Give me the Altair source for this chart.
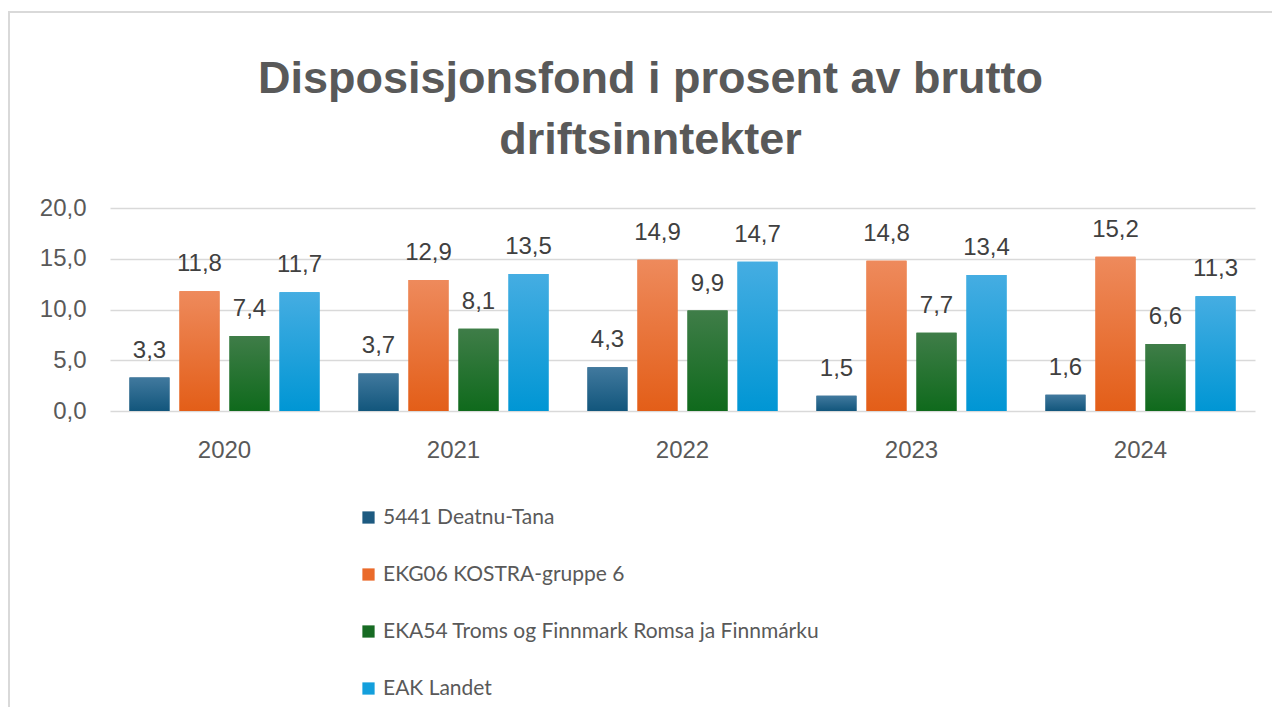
import altair as alt
import pandas as pd

years = ["2020", "2021", "2022", "2023", "2024"]
series = [
    "5441 Deatnu-Tana",
    "EKG06 KOSTRA-gruppe 6",
    "EKA54 Troms og Finnmark Romsa ja Finnmárku",
    "EAK Landet",
]
deatnu = [3.3, 3.7, 4.3, 1.5, 1.6]
kostra = [11.8, 12.9, 14.9, 14.8, 15.2]
troms = [7.4, 8.1, 9.9, 7.7, 6.6]
landet = [11.7, 13.5, 14.7, 13.4, 11.3]
y_ticks = [0, 5, 10, 15, 20]

solid = ["#1d5a80", "#ea6a2a", "#176b23", "#139fdc"]
grad_top = ["#41799e", "#ee8a5c", "#3f7d48", "#45ade2"]
grad_bot = ["#12567c", "#e35e18", "#0f6a1c", "#0096d4"]

rows = []
for s, vals in zip(series, [deatnu, kostra, troms, landet]):
    for yr, v in zip(years, vals):
        rows.append({"year": yr, "series": s, "value": v})
df = pd.DataFrame(rows)
df["label"] = df["value"].map(lambda v: f"{v:.1f}".replace(".", ","))

x_enc = alt.X("year:N", sort=years, title=None,
              scale=alt.Scale(paddingInner=0.17, paddingOuter=0.085),
              axis=alt.Axis(labelFontSize=24, labelColor="#595959", labelFont="Liberation Sans",
                            labelPadding=27, ticks=False, domain=False, labelAngle=0))
xo_enc = alt.XOffset("series:N", sort=series,
                     scale=alt.Scale(domain=series, paddingInner=0.2, paddingOuter=0))
y_enc = alt.Y("value:Q", title=None,
              scale=alt.Scale(domain=[0, 20], nice=False),
              axis=alt.Axis(values=y_ticks, labelFontSize=24, labelColor="#595959",
                            labelFont="Liberation Sans", labelPadding=24, ticks=False,
                            domain=False, gridColor="#d9d9d9", gridWidth=1.5,
                            labelExpr="replace(format(datum.value, '.1f'), '.', ',')"))

base = alt.Chart(df)

border = base.mark_rect(fill=None, stroke="#d9d9d9", strokeWidth=2, clip=False).encode(
    x=alt.value(-101), x2=alt.value(1200), y=alt.value(-196), y2=alt.value(540)
)

bars = base.mark_bar().encode(
    x=x_enc, xOffset=xo_enc, y=y_enc,
    color=alt.Color("series:N", sort=series,
                    scale=alt.Scale(domain=series, range=solid),
                    legend=alt.Legend(title=None, orient="none", legendX=248, legendY=299,
                                      direction="vertical", symbolType="square", symbolSize=150,
                                      labelFontSize=21, labelFont="Lato",
                                      labelColor="#595959", rowPadding=35, padding=0,
                                      symbolStrokeWidth=0, labelOffset=4, labelLimit=600)),
)

layers = [border, bars]
for s, top, bot in zip(series, grad_top, grad_bot):
    g = alt.Gradient(gradient="linear", x1=0, x2=0, y1=0, y2=1,
                     stops=[alt.GradientStop(color=top, offset=0),
                            alt.GradientStop(color=bot, offset=1)])
    layers.append(
        base.transform_filter(alt.datum.series == s).mark_bar(color=g).encode(
            x=x_enc, xOffset=xo_enc, y=y_enc)
    )

labels = base.mark_text(fontSize=24, font="Liberation Sans", color="#404040",
                        baseline="alphabetic", dy=-20).encode(
    x=x_enc, xOffset=xo_enc, y=y_enc, text="label:N")
layers.append(labels)

chart = alt.layer(*layers).properties(
    width=1145, height=203,
    title=alt.Title(["Disposisjonsfond  i prosent av brutto", "driftsinntekter"],
                    fontSize=45, font="Liberation Sans", fontWeight="bold", color="#595959",
                    anchor="middle", dx=-32, dy=152, lineHeight=61, offset=0),
    padding={"left": 102, "top": 200, "right": 17, "bottom": 296},
    autosize=alt.AutoSizeParams(type="none"),
).configure_view(stroke=None)

chart.save("out.html", embed_options={"renderer": "svg", "actions": False})
